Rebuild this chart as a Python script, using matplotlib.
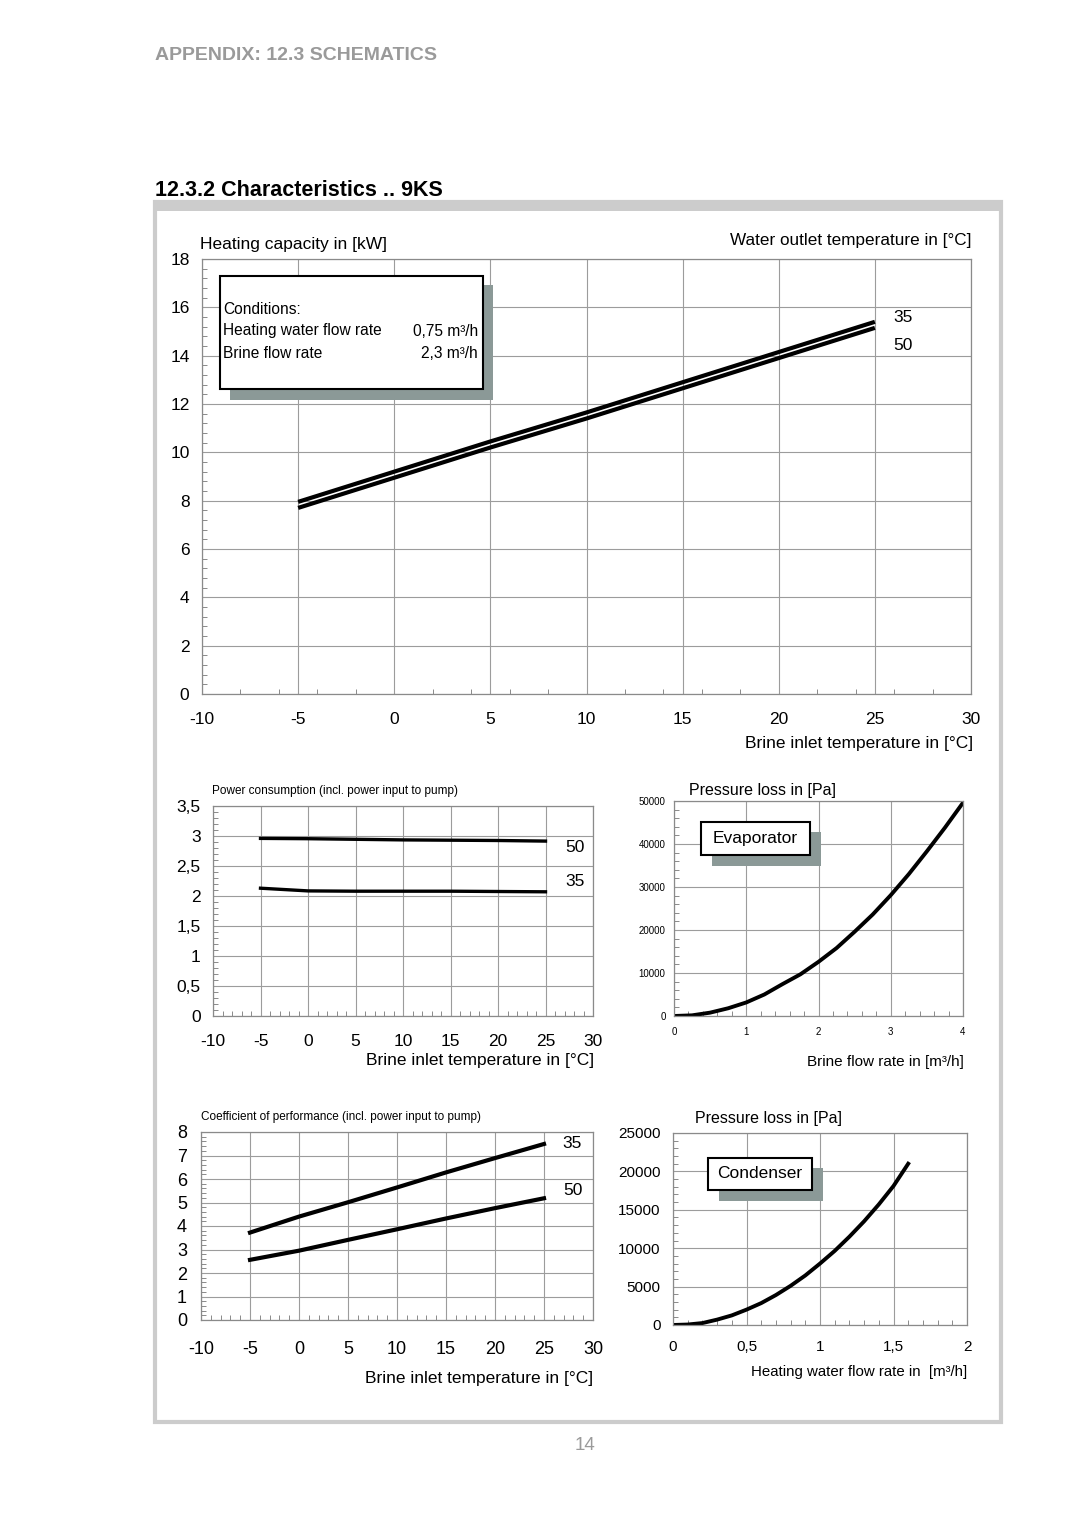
import matplotlib
matplotlib.use("Agg")
import matplotlib.pyplot as plt
from matplotlib import font_manager
from matplotlib.patches import Rectangle
from matplotlib.ticker import MultipleLocator, FuncFormatter

# ---- data ----
brine_temp = [-5, 0, 5, 10, 15, 20, 25]

# heating capacity [kW]
cap_35 = [7.95, 9.2, 10.45, 11.65, 12.9, 14.15, 15.4]
cap_50 = [7.7, 8.95, 10.2, 11.4, 12.65, 13.9, 15.15]

# power consumption [kW]
pow_50 = [2.96, 2.955, 2.945, 2.935, 2.93, 2.925, 2.915]
pow_35 = [2.13, 2.085, 2.08, 2.08, 2.08, 2.075, 2.07]

# coefficient of performance
cop_35 = [3.72, 4.40, 5.01, 5.64, 6.28, 6.89, 7.49]
cop_50 = [2.56, 2.95, 3.41, 3.86, 4.32, 4.76, 5.18]

# evaporator pressure loss
evap_flow = [0, 0.25, 0.5, 0.75, 1.0, 1.25, 1.5, 1.75, 2.0, 2.25, 2.5, 2.75, 3.0, 3.25, 3.5, 3.75, 4.0]
evap_dp = [0, 150, 780, 1800, 3150, 5000, 7400, 9700, 12600, 15800, 19600, 23600, 28100, 33000, 38300, 43800, 49600]

# condenser pressure loss
cond_flow = [0, 0.1, 0.2, 0.3, 0.4, 0.5, 0.6, 0.7, 0.8, 0.9, 1.0, 1.1, 1.2, 1.3, 1.4, 1.5, 1.6]
cond_dp = [0, 60, 250, 700, 1250, 2000, 2850, 3900, 5100, 6450, 8000, 9650, 11500, 13500, 15700, 18100, 21000]

W, H = 1080, 1527
names = {f.name for f in font_manager.fontManager.ttflist}
MAIN = "Liberation Sans" if "Liberation Sans" in names else "DejaVu Sans"
NARROW = "Liberation Sans Narrow" if "Liberation Sans Narrow" in names else None
plt.rcParams["font.family"] = [MAIN, "DejaVu Sans"]

fig = plt.figure(figsize=(W / 100, H / 100), dpi=100)
fig.patch.set_facecolor("white")

GRID = "#9c9c9c"
SHADOW = "#8b9997"


def px_axes(x0, y0, x1, y1):
    return fig.add_axes([x0 / W, 1 - y1 / H, (x1 - x0) / W, (y1 - y0) / H])


def px_rect(x0, y0, x1, y1, **kw):
    fig.add_artist(Rectangle((x0 / W, 1 - y1 / H), (x1 - x0) / W, (y1 - y0) / H,
                             transform=fig.transFigure, **kw))


def px_text(x, y, s, **kw):
    kw.setdefault("va", "center")
    return fig.text(x / W, 1 - y / H, s, **kw)


def small_title(x, y, s):
    # condensed caption above the small charts
    if NARROW:
        px_text(x, y, s, fontsize=10.5, family=[NARROW, MAIN])
    else:
        px_text(x, y, s, fontsize=8.5)


comma = FuncFormatter(lambda v, p: f"{v:g}".replace(".", ","))


def style(ax, xlim, ylim, xmaj, ymaj, xmin, ymin, xpad, ypad, xfs, yfs):
    ax.set_xlim(*xlim)
    ax.set_ylim(*ylim)
    ax.xaxis.set_major_locator(MultipleLocator(xmaj))
    ax.yaxis.set_major_locator(MultipleLocator(ymaj))
    ax.xaxis.set_minor_locator(MultipleLocator(xmin))
    ax.yaxis.set_minor_locator(MultipleLocator(ymin))
    ax.xaxis.set_major_formatter(comma)
    ax.yaxis.set_major_formatter(comma)
    ax.grid(True, which="major", color=GRID, lw=0.8)
    ax.tick_params(which="major", length=0)
    ax.tick_params(axis="x", which="major", pad=xpad, labelsize=xfs)
    ax.tick_params(axis="y", which="major", pad=ypad, labelsize=yfs)
    ax.tick_params(which="minor", direction="in", length=3.5, width=0.6, color="#777777")
    for s in ax.spines.values():
        s.set_color("#8a8a8a")
        s.set_linewidth(0.9)
    ax.set_axisbelow(True)


# ---- page frame and headings ----
px_text(155, 55, "APPENDIX: 12.3 SCHEMATICS", fontsize=14, fontweight="bold", color="#9a9a9a")
px_text(155, 190, "12.3.2 Characteristics .. 9KS", fontsize=15.5, fontweight="bold", color="black")
px_rect(155, 202, 1001, 1422, facecolor="none", edgecolor="#cccccc", lw=3)
px_rect(154, 201, 1002, 211, facecolor="#cccccc", edgecolor="none")
px_text(585, 1446, "14", fontsize=13.5, color="#9a9a9a", ha="center")

# ---- heating capacity ----
ax1 = px_axes(202, 259, 971, 694)
style(ax1, (-10, 30), (0, 18), 5, 2, 2, 0.4, 13, 9, 12.5, 12.5)
ax1.plot(brine_temp, cap_35, color="black", lw=3.0, solid_capstyle="butt")
ax1.plot(brine_temp, cap_50, color="black", lw=3.0, solid_capstyle="butt")
ax1.text(25.95, 15.6, "35", fontsize=12.5, va="center")
ax1.text(25.95, 14.44, "50", fontsize=12.5, va="center",
         bbox=dict(facecolor="white", edgecolor="none", pad=2))
px_text(200, 244, "Heating capacity in [kW]", fontsize=12.5)
px_text(971, 241, "Water outlet temperature in [\u00b0C]", fontsize=12.3, ha="right")
px_text(973, 743, "Brine inlet temperature in [\u00b0C]", fontsize=12.5, ha="right")

px_rect(230, 285, 493, 400, facecolor=SHADOW, edgecolor="none")
px_rect(220, 276, 483, 389, facecolor="white", edgecolor="black", lw=1.5)
px_text(223, 310, "Conditions:", fontsize=11.2)
px_text(223, 331, "Heating water flow rate", fontsize=11.2)
px_text(478, 331, "0,75 m\u00b3/h", fontsize=11.2, ha="right")
px_text(223, 353, "Brine flow rate", fontsize=11.2)
px_text(478, 353, "2,3 m\u00b3/h", fontsize=11.2, ha="right")

# ---- power consumption ----
ax2 = px_axes(213, 806, 593, 1016)
style(ax2, (-10, 30), (0, 3.5), 5, 0.5, 1, 0.1, 13, 9, 12.5, 12.5)
ax2.plot(brine_temp, pow_50, color="black", lw=2.4)
ax2.plot(brine_temp, pow_35, color="black", lw=2.4)
ax2.text(27.05, 2.8, "50", fontsize=12.5, va="center")
ax2.text(27.05, 2.25, "35", fontsize=12.5, va="center")
small_title(212, 791, "Power consumption (incl. power input to pump)")
px_text(594, 1061, "Brine inlet temperature in [\u00b0C]", fontsize=12.5, ha="right")

# ---- evaporator pressure loss ----
ax3 = px_axes(674, 801, 963, 1016)
style(ax3, (0, 4), (0, 50000), 1, 10000, 0.2, 2000, 8, 6, 7, 7)
ax3.plot(evap_flow, evap_dp, color="black", lw=2.8)
px_text(689, 791, "Pressure loss in [Pa]", fontsize=11.5)
px_text(964, 1062, "Brine flow rate in [m\u00b3/h]", fontsize=11, ha="right")
px_rect(712, 832, 821, 866, facecolor=SHADOW, edgecolor="none")
px_rect(701, 822, 810, 855, facecolor="white", edgecolor="black", lw=1.5)
px_text(755.5, 838.5, "Evaporator", fontsize=12.5, ha="center")

# ---- coefficient of performance ----
ax4 = px_axes(201, 1132, 593, 1320)
style(ax4, (-10, 30), (0, 8), 5, 1, 1, 0.2, 15, 10, 13, 13)
ax4.plot(brine_temp, cop_35, color="black", lw=3.0)
ax4.plot(brine_temp, cop_50, color="black", lw=3.0)
ax4.text(26.9, 7.53, "35", fontsize=12.5, va="center")
ax4.text(27.0, 5.49, "50", fontsize=12.5, va="center")
small_title(201, 1117, "Coefficient of performance (incl. power input to pump)")
px_text(593, 1378, "Brine inlet temperature in [\u00b0C]", fontsize=12.5, ha="right")

# ---- condenser pressure loss ----
ax5 = px_axes(673, 1133, 967, 1325)
style(ax5, (0, 2), (0, 25000), 0.5, 5000, 0.1, 1000, 11, 9, 11, 11)
ax5.plot(cond_flow, cond_dp, color="black", lw=2.8)
px_text(695, 1118, "Pressure loss in [Pa]", fontsize=11.5)
px_text(967, 1372, "Heating water flow rate in  [m\u00b3/h]", fontsize=10.8, ha="right")
px_rect(719, 1168, 823, 1201, facecolor=SHADOW, edgecolor="none")
px_rect(708, 1158, 812, 1190, facecolor="white", edgecolor="black", lw=1.5)
px_text(760, 1173.5, "Condenser", fontsize=12.5, ha="center")

fig.savefig("out.png", dpi=100, facecolor="white")
